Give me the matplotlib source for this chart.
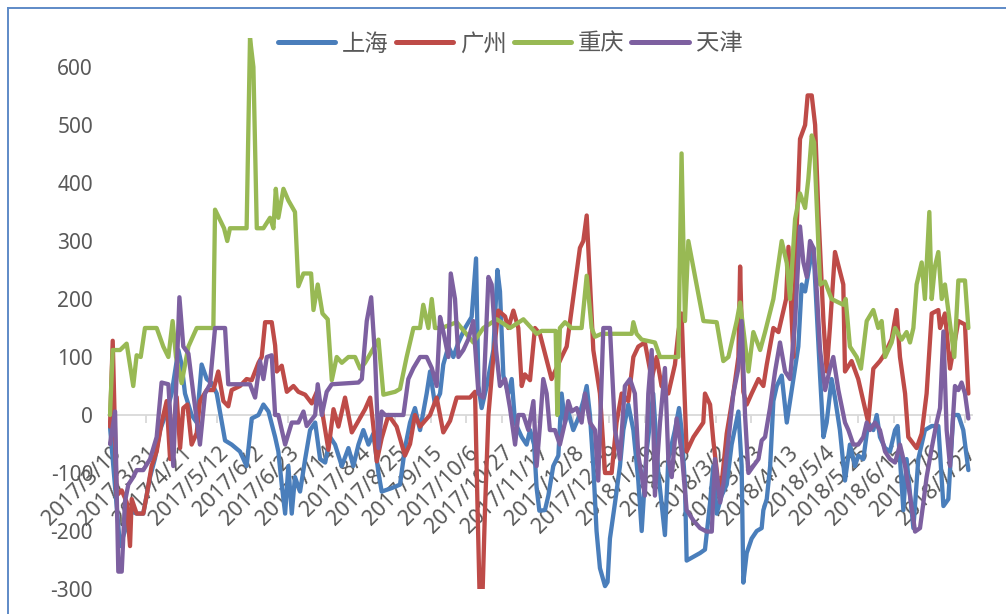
import matplotlib
matplotlib.use('Agg')
import matplotlib.pyplot as plt
import matplotlib.dates as mdates
from matplotlib.lines import Line2D
import numpy as np
import pandas as pd

# ---------------- data ----------------
start_date = '2017-03-10'
tick_labels = ['2017/3/10', '2017/3/31', '2017/4/21', '2017/5/12', '2017/6/2', '2017/6/23',
               '2017/7/14', '2017/8/4', '2017/8/25', '2017/9/15', '2017/10/6', '2017/10/27',
               '2017/11/17', '2017/12/8', '2017/12/29', '2018/1/19', '2018/2/9', '2018/3/2',
               '2018/3/23', '2018/4/13', '2018/5/4', '2018/5/25', '2018/6/15', '2018/7/6',
               '2018/7/27']
series_names = ['上海', '广州', '重庆', '天津']
y_ticks = [-300, -200, -100, 0, 100, 200, 300, 400, 500, 600]

# 上海 (days after start date, value)
sh_day = [0, 5.9, 8.8, 10.8, 15.7, 19.6, 23.6, 26.5, 29.5, 33.4, 36.3, 40.3, 42.2, 44.2, 48.1,
          51.1, 54, 57, 59.9, 62.9, 67.8, 71.7, 76.6, 80.5, 83.5, 87.5, 90.4, 93.4, 97.3, 99.2,
          101.2, 103.2, 105.1, 107.1, 109, 112, 115, 117.9, 120.9, 123.8, 126.8, 129.7, 132.6,
          136.6, 140.5, 143.4, 146.4, 149.3, 152.3, 155.2, 158.2, 160.1, 166, 170.9, 173.8,
          176.8, 179.7, 182.7, 186.6, 188.6, 191.5, 194.5, 196.4, 199.4, 202.3, 205.3, 209.2,
          213.1, 215.7, 217.1, 219, 222, 225.9, 228.3, 229.8, 231.8, 234.7, 236.7, 238.7, 242.6,
          245.5, 247.5, 249.9, 251.4, 253, 256.3, 258.3, 261.2, 264.2, 266.1, 268.1, 270, 273,
          275.9, 278.9, 280.9, 282.8, 284.8, 286.7, 288.7, 291.7, 293.2, 294.6, 297.6, 300.5,
          302.5, 305.4, 308.4, 311.3, 313.3, 316.2, 318.2, 320.1, 323.1, 327, 329, 332.9, 335.3,
          336.8, 338.8, 339.8, 347.7, 350.6, 353.6, 355.5, 357.5, 360.4, 363.4, 366.3, 370.3,
          372.2, 373.2, 375.2, 378.1, 381.1, 384, 385, 387, 389, 390.9, 392.9, 395.8, 398.8,
          402.7, 405.6, 407.6, 409.6, 412.5, 414.5, 418.4, 420.4, 422.3, 425.2, 427.2, 430.1,
          433.1, 436, 439, 440.9, 443.9, 446.8, 449.8, 451.8, 453.7, 456.7, 459.6, 462.6, 464.1,
          465.5, 467.5, 469.4, 473.4, 476.3, 480.2, 484.2, 488.1, 491.1, 494, 496.9, 499.9,
          502.8, 505.8]
sh_val = [-20, -226, -200, -164, -170, -170, -107, -75, -26, 6, 37, 112, 87, 37, 0,
          -13, 87, 62, 55, 37, -44, -51, -63, -88, -6, 0, 18, 6, -38, -63,
          -120, -170, -88, -170, -107, -132, -76, -26, -13, -76, -82, -38, -51,
          -88, -57, -88, -51, -26, -51, -32, -100, -132, -126, -120, -57,
          -13, 12, -26, 37, 75, 18, 37, 87, 118, 100, 125, 150,
          169, 270, 50, 12, 50, 112, 250, 213, 68, 37, 62, -13, -38,
          -51, -26, -51, -126, -165, -164, -139, -88, -70, 37, -13, 6, -26,
          -6, 24, 50, 0, -88, -200, -264, -295, -288, -213, -151, -88,
          -26, 18, -26, -113, -200, -63, -13, 37, -100, -207, -76, -26, 12,
          -26, -120, -251, -238, -232, -151, -88, -170, -139, -120, -51, 6,
          -88, -289, -238, -213, -200, -195, -164, -145, -88, 24, 50, 68, -13,
          62, 118, 225, 213, 263, 288, 68, -38, -13, 62, 30, -26,
          -113, -51, -88, -70, -76, -13, -26, 0, -38, -57, -63, -26, -19,
          -76, -164, -76, -195, -76, -26, -19, -19, -157, -145, 0, 0,
          -26, -95]

# 广州
gz_day = [0, 1.6, 3.9, 6.9, 9.8, 11.8, 12.8, 15.7, 19.6, 21.6, 24.5, 27.5, 30.4, 33.4, 35.4,
          37.3, 39.3, 41.3, 43.2, 45.6, 48.1, 51.1, 53, 57, 60.9, 63.8, 66.8, 69.7, 71.7, 76.6,
          80.5, 83.5, 87.5, 89.4, 91.4, 95.3, 97.3, 98.3, 101.2, 104.2, 108.1, 111, 115, 118.9,
          121.9, 124.8, 128.7, 131.7, 134.6, 138.5, 142.5, 146.4, 150.3, 153.3, 155.2, 157.2,
          160.1, 164.1, 168.9, 173.8, 176.8, 179.7, 182.7, 185.6, 188.6, 192.5, 196.4, 200.4,
          204.3, 212.1, 215.1, 216.5, 217.7, 219.6, 221, 223, 225.9, 228.8, 232.8, 234.7, 237.7,
          240.6, 242.6, 244.5, 247.5, 250.4, 253.3, 260.2, 266.1, 269.1, 274, 276.9, 278.9,
          280.9, 284.8, 288.7, 291.7, 295.6, 298.5, 301.5, 305.4, 308.4, 311.3, 315.2, 319.2,
          322.1, 325, 329, 332.9, 334.9, 336.8, 339.8, 343.8, 349.6, 350.6, 353.6, 355.5, 359.5,
          363.4, 367.3, 370.3, 371.3, 373.2, 375.2, 378.1, 382.1, 385, 387, 390.9, 393.9, 398.4,
          399.8, 402.7, 404.3, 406.6, 409.6, 411.1, 413.5, 415.5, 417.4, 420.4, 422.3, 424.2,
          427.2, 432.1, 433.1, 437, 440.9, 446.8, 449.8, 453.7, 456.7, 460.6, 463.5, 465.5,
          468.5, 470.4, 475.3, 478.3, 481.2, 484.2, 488.1, 489.1, 492, 495, 496.9, 499.9, 503.8,
          505.8]
gz_val = [-20, 128, -139, -130, -150, -226, -145, -170, -170, -139, -88, -63, -13, 24, -76,
          -25, 31, -57, 12, 18, -51, -31, 24, 43, 43, 75, 24, 15, 43, 50,
          62, 60, 90, 100, 160, 160, 120, 75, 85, 40, 50, 40, 35, 20,
          40, 10, -60, 10, -20, 30, -30, -10, 10, 30, -20, -80,
          -40, 0, -20, -70, -50, 0, -20, -10, 0, 30, -30, -10,
          30, 30, 40, -150, -300, -300, -160, 0, 100, 180, 170, 150, 180,
          150, 50, 70, 60, 150, 140, 62, 100, 118, 225, 288, 300,
          344, 112, 37, -100, -100, -13, 37, 24, 100, 118, 125, 62,
          100, 50, 37, 87, 143, 175, -63, -38, -13, 37, 18, -44, -145,
          -32, 37, 100, 256, 40, 18, 37, 62, 50, 87, 150, 143, 200,
          290, 100, 294, 476, 500, 551, 551, 500, 350, 162, 75, 150,
          281, 225, 75, 93, 62, -13, 80, 93, 106, 131, 181, 100,
          37, -38, -57, -32, 37, 175, 181, 150, 175, 80, 112, 162, 156,
          37]

# 重庆
cq_day = [0, 1.6, 5.9, 9.8, 13.7, 15.7, 18.1, 20.6, 27.5, 31.4, 34.4, 36.9, 38.9, 42.2, 46.2,
          51.1, 60.9, 61.9, 67.2, 69.1, 70.7, 80.5, 82.5, 84.5, 86.5, 90.4, 94.3, 96.3, 97.7,
          99.2, 102.2, 105.1, 109, 111, 114, 118.5, 119.9, 122.4, 125.2, 128.3, 130.7, 133.6,
          136.6, 140.5, 144.4, 147.4, 150.3, 158.2, 161.1, 168, 170.9, 174.8, 178.8, 182.7,
          184.6, 187.6, 189.6, 191.5, 195.5, 204.3, 214.1, 220, 227.9, 235.7, 243.6, 251.4,
          254.3, 262.6, 263.6, 265.1, 268.1, 272, 277.9, 280.9, 283.8, 285.8, 289.7, 307.4,
          308.4, 310.3, 313.3, 321.1, 324.1, 334.9, 336.8, 338.8, 340.8, 349.7, 357.5, 361.4,
          364.4, 369.3, 371.3, 376.2, 379.1, 383.1, 386, 390.9, 395.8, 398.8, 400.7, 403.7,
          406.6, 409.6, 411.5, 413.5, 414.9, 418.4, 421.3, 425.2, 432.1, 433.5, 436, 440, 442.5,
          445.9, 449.8, 452.7, 454.7, 456.7, 460.6, 462.6, 466.5, 469.4, 471.4, 473.4, 475.3,
          478.3, 480.2, 482.8, 484.2, 486.1, 488.1, 490.1, 492, 497.5, 499.9, 503.8, 505.8]
cq_val = [0, 112, 112, 123, 50, 103, 100, 150, 150, 118, 100, 162, 100, 55, 118,
          150, 150, 354, 322, 300, 322, 322, 650, 600, 322, 322, 340, 322, 390,
          340, 390, 370, 350, 222, 244, 244, 181, 225, 175, 165, 60, 100,
          90, 100, 100, 80, 90, 130, 35, 40, 45, 100, 150, 150,
          190, 150, 200, 150, 150, 160, 125, 150, 165, 150, 165, 140,
          145, 145, 0, 150, 160, 150, 150, 240, 150, 135, 140, 140,
          160, 140, 130, 125, 100, 100, 451, 162, 300, 162, 160, 93,
          100, 162, 194, 75, 143, 112, 143, 200, 300, 262, 200, 338,
          382, 357, 407, 482, 470, 225, 230, 200, 190, 200, 118, 100, 80,
          162, 181, 150, 162, 100, 125, 150, 130, 143, 125, 150, 225,
          263, 200, 350, 200, 256, 281, 200, 225, 100, 232, 232, 150]

# 天津
tj_day = [0, 3, 4.9, 6.9, 8.8, 10.8, 13.7, 15.7, 19.6, 23.6, 27.5, 30.4, 34.4, 37.3, 40.9,
          43.2, 46.2, 49.1, 53, 56, 58.9, 61.9, 67.8, 69.7, 82.5, 85.5, 88.4, 90.4, 92.4, 95.3,
          97.3, 99.2, 103.2, 107.1, 111, 114, 115.9, 120.9, 122.4, 124.8, 127.7, 130.7, 146.4,
          148.4, 151.3, 153.9, 156.2, 158.2, 160.1, 162.1, 172.9, 175.8, 178.8, 182.7, 186.6,
          189.6, 192.5, 194.5, 196.4, 199.4, 200.8, 203.3, 205.3, 208.2, 211.2, 214.1, 217.1,
          220, 223, 224.9, 227.5, 229.8, 232.8, 235.7, 238.7, 240.6, 243.6, 246.5, 249.5, 251.4,
          253.3, 255.3, 257.3, 259.2, 262.2, 265.1, 268.1, 270, 272, 275, 277.9, 279.9, 282.8,
          285.8, 287.7, 290.7, 294.6, 297.6, 300.5, 303.4, 306.4, 309.3, 311.3, 315.2, 317.2,
          319.2, 321.1, 324.1, 327, 329, 331, 333.9, 336.8, 339.8, 343.8, 347.7, 351.6, 354.6,
          356.5, 359.5, 361.4, 364.4, 367.3, 370.3, 372.2, 374.2, 376.2, 379.1, 382.1, 384, 386,
          388.9, 391.9, 394.8, 397.8, 400.7, 403.7, 406.6, 408.6, 410.6, 412.5, 414.5, 416.5,
          418.4, 421.4, 424.3, 426.2, 429.2, 433.1, 435.1, 438, 440.9, 443.9, 445.9, 447.8,
          450.8, 453.7, 456.7, 459.6, 462.6, 465.5, 468.5, 471.4, 474.4, 477.3, 479.3, 481.2,
          484.2, 487.1, 489.1, 491.1, 493, 495, 497.9, 499.9, 501.8, 503.8, 505.8]
tj_val = [-50, 6, -270, -270, -150, -120, -107, -95, -95, -76, -38, 56, 53, -88, 203,
          118, 106, 37, -51, 37, 53, 150, 150, 53, 53, 30, 93, 62, 100, 103,
          0, 0, -51, -13, -13, 6, -19, 0, 53, 0, 40, 53, 56,
          62, 162, 203, 100, -57, 6, 0, 0, 62, 81, 100, 100,
          81, 50, 169, 144, 100, 244, 200, 100, 112, 131, 162, 37,
          30, 238, 225, 112, 50, 62, 12, -51, 0, 0, -26, 24, -88,
          -20, 62, 37, -26, -26, -51, -13, 24, 6, 12, -13, 37, -13,
          -26, -113, 150, 150, -26, -76, 50, 62, 37, -69, -139, 37,
          112, -139, -13, 81, -76, -107, -6, -63, -164, -182, -195, -201, -201,
          -76, -151, -120, -44, 37, 81, 162, 0, -100, -88, -76, -44, -38,
          12, 75, 125, 75, 62, 162, 325, 263, 238, 300, 288, 213,
          112, 43, 81, 100, 43, -13, -26, -51, -51, -38, -13, -26,
          -13, -26, -63, -76, -82, -51, -88, -139, -201, -195, -151, -107,
          -57, -13, 12, 144, -26, -88, 50, 43, 56, 37, -6]

# ---------------- figure ----------------
W, H = 1006, 614
fig = plt.figure(figsize=(W / 100, H / 100), dpi=100)
fig.patch.set_facecolor('white')

x_left_px, x_right_px = 108.3, 972.1
y_top_px, y_bot_px = 38.0, 589.0
ax = fig.add_axes([x_left_px / W, 1 - y_bot_px / H,
                   (x_right_px - x_left_px) / W, (y_bot_px - y_top_px) / H])

t0 = mdates.date2num(pd.Timestamp(start_date))
colors = ['#4A7EBB', '#BE4B48', '#98B954', '#7D60A0']
all_days = [sh_day, gz_day, cq_day, tj_day]
all_vals = [sh_val, gz_val, cq_val, tj_val]

for name, d, v, c in zip(series_names, all_days, all_vals, colors):
    ax.plot(t0 + np.asarray(d), v, color=c, lw=3.1, solid_joinstyle='round',
            solid_capstyle='round', label=name, zorder=3)

ax.set_xlim(t0 - 1, t0 + 508)
ax.set_ylim(-300, 650)

for s in ['top', 'right', 'left']:
    ax.spines[s].set_visible(False)
ax.spines['bottom'].set_position(('data', 0))
ax.spines['bottom'].set_color('#D9D9D9')
ax.spines['bottom'].set_linewidth(1.3)
ax.spines['bottom'].set_zorder(1)

tick_pos = [mdates.date2num(pd.to_datetime(t, format='%Y/%m/%d')) for t in tick_labels]
ax.set_xticks(tick_pos)
ax.set_xticklabels([])
ax.tick_params(axis='x', direction='out', length=6, width=1.3, color='#D9D9D9')

lab_font = 'Noto Sans'
for tp, tl in zip(tick_pos, tick_labels):
    ax.annotate(tl, xy=(tp, 0), xycoords='data', xytext=(6, -25), textcoords='offset points',
                rotation=45, rotation_mode='anchor', ha='right', va='center',
                fontsize=15.5, color='#595959', family=lab_font, zorder=2,
                annotation_clip=False)

ax.set_yticks(y_ticks)
ax.set_yticklabels([str(v) for v in y_ticks], family=lab_font)
ax.tick_params(axis='y', length=0, labelsize=15, labelcolor='#595959', pad=11)

handles = [Line2D([0], [0], color=c, lw=3.6, solid_capstyle='round') for c in colors]
leg = fig.legend(handles, series_names, loc='center', bbox_to_anchor=(510 / W, 1 - 44 / H),
                 ncol=4, frameon=False, handlelength=2.45, handletextpad=0.3,
                 columnspacing=0.3, prop={'family': ['Noto Sans CJK SC', 'DejaVu Sans'], 'size': 16.8},
                 labelcolor='#595959')

# outer chart-area border
border_c = '#5E8AC7'
fig.add_artist(Line2D([7.5 / W, 7.5 / W], [0, 1 - 8 / H], transform=fig.transFigure,
                      color=border_c, lw=1.4))
fig.add_artist(Line2D([7.5 / W, 1.0], [1 - 8 / H, 1 - 8 / H], transform=fig.transFigure,
                      color=border_c, lw=1.4))

fig.savefig('out.png', dpi=100)
